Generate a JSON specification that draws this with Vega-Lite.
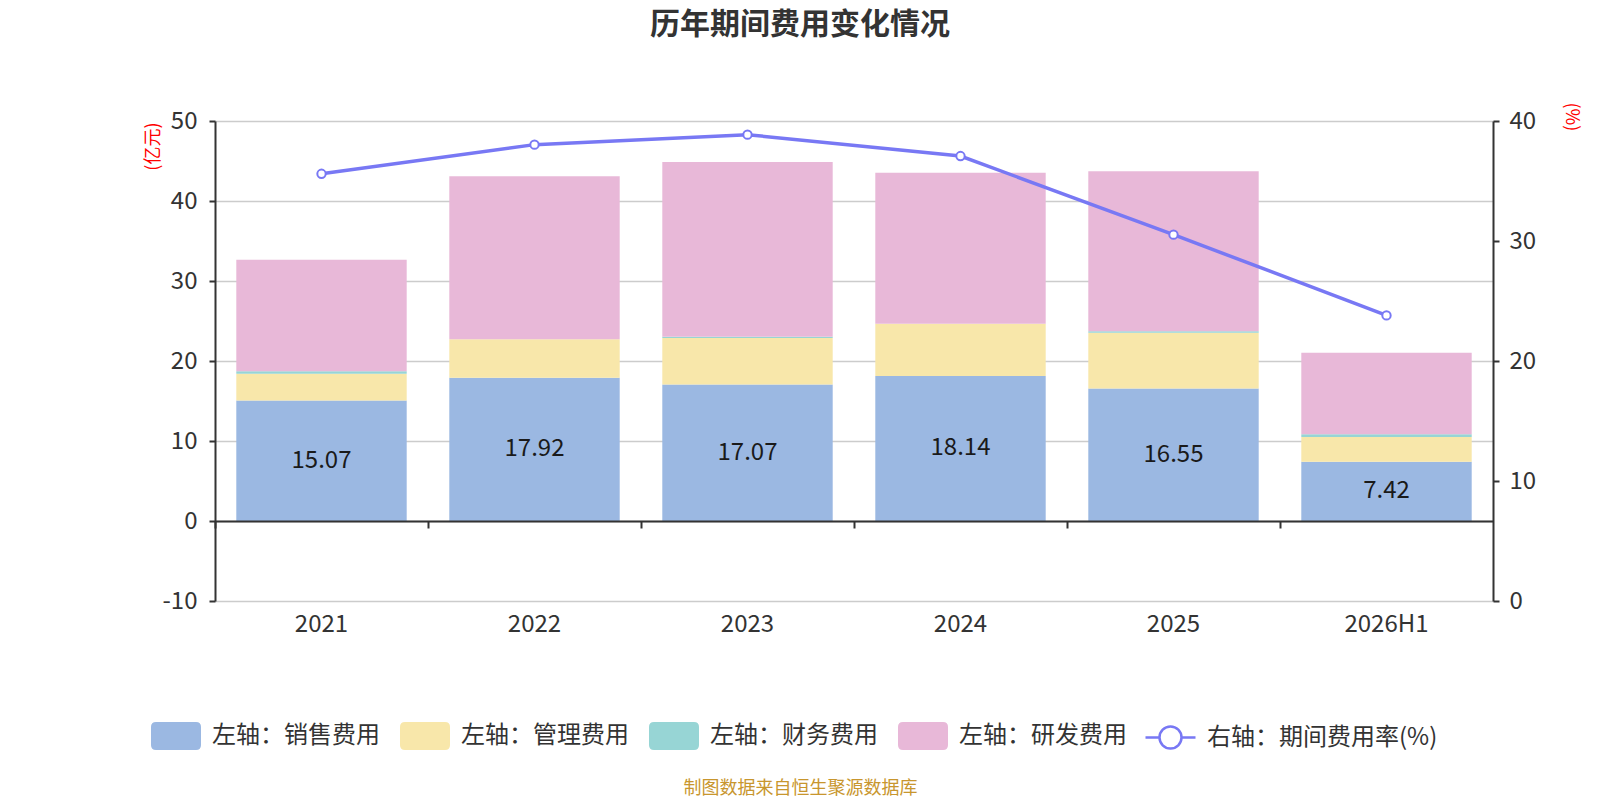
{
  "$schema": "https://vega.github.io/schema/vega-lite/v6.json",
  "width": 1278,
  "height": 480,
  "autosize": "none",
  "padding": {"left": 215, "top": 121, "right": 107, "bottom": 199},
  "background": "white",
  "title": {
    "text": "历年期间费用变化情况",
    "font": "Noto Sans CJK SC",
    "fontSize": 30,
    "fontWeight": "bold",
    "color": "#333333",
    "anchor": "middle",
    "dx": -54,
    "offset": 62
  },
  "datasets": {
    "cost": [
      {"year": "2021", "type": "左轴：销售费用", "k": 1, "value": 15.07},
      {"year": "2021", "type": "左轴：管理费用", "k": 2, "value": 3.33},
      {"year": "2021", "type": "左轴：财务费用", "k": 3, "value": 0.33},
      {"year": "2021", "type": "左轴：研发费用", "k": 4, "value": 13.92},
      {"year": "2022", "type": "左轴：销售费用", "k": 1, "value": 17.92},
      {"year": "2022", "type": "左轴：管理费用", "k": 2, "value": 4.79},
      {"year": "2022", "type": "左轴：财务费用", "k": 3, "value": -0.03},
      {"year": "2022", "type": "左轴：研发费用", "k": 4, "value": 20.37},
      {"year": "2023", "type": "左轴：销售费用", "k": 1, "value": 17.07},
      {"year": "2023", "type": "左轴：管理费用", "k": 2, "value": 5.80},
      {"year": "2023", "type": "左轴：财务费用", "k": 3, "value": 0.17},
      {"year": "2023", "type": "左轴：研发费用", "k": 4, "value": 21.83},
      {"year": "2024", "type": "左轴：销售费用", "k": 1, "value": 18.14},
      {"year": "2024", "type": "左轴：管理费用", "k": 2, "value": 6.53},
      {"year": "2024", "type": "左轴：财务费用", "k": 3, "value": -0.05},
      {"year": "2024", "type": "左轴：研发费用", "k": 4, "value": 18.87},
      {"year": "2025", "type": "左轴：销售费用", "k": 1, "value": 16.55},
      {"year": "2025", "type": "左轴：管理费用", "k": 2, "value": 6.99},
      {"year": "2025", "type": "左轴：财务费用", "k": 3, "value": 0.17},
      {"year": "2025", "type": "左轴：研发费用", "k": 4, "value": 20.00},
      {"year": "2026H1", "type": "左轴：销售费用", "k": 1, "value": 7.42},
      {"year": "2026H1", "type": "左轴：管理费用", "k": 2, "value": 3.08},
      {"year": "2026H1", "type": "左轴：财务费用", "k": 3, "value": 0.33},
      {"year": "2026H1", "type": "左轴：研发费用", "k": 4, "value": 10.21}
    ],
    "rate": [
      {"year": "2021", "rate": 35.6},
      {"year": "2022", "rate": 38.03},
      {"year": "2023", "rate": 38.86},
      {"year": "2024", "rate": 37.08},
      {"year": "2025", "rate": 30.53},
      {"year": "2026H1", "rate": 23.8}
    ]
  },
  "layer": [
    {
      "data": {"name": "cost"},
      "mark": {"type": "bar", "width": {"band": 0.8}},
      "encoding": {
        "x": {
          "field": "year",
          "type": "nominal",
          "sort": null,
          "scale": {"paddingInner": 0, "paddingOuter": 0},
          "axis": {
            "orient": "bottom",
            "domain": false,
            "ticks": false,
            "grid": false,
            "labelAngle": 0,
            "labelPadding": 11,
            "labelFontSize": 24,
            "labelColor": "#333333",
            "title": "制图数据来自恒生聚源数据库",
            "titleColor": "#c8962e",
            "titleFontSize": 18,
            "titleFontWeight": "normal",
            "titleX": 585,
            "titleY": 187,
            "titleAlign": "center",
            "titleBaseline": "middle"
          }
        },
        "y": {
          "field": "value",
          "type": "quantitative",
          "stack": "zero",
          "scale": {"domain": [-10, 50], "nice": false, "zero": false},
          "axis": {
            "orient": "left",
            "values": [-10, 0, 10, 20, 30, 40, 50],
            "labelExpr": "'' + datum.value",
            "domain": true,
            "domainColor": "#333333",
            "domainWidth": 2,
            "ticks": true,
            "tickColor": "#333333",
            "tickWidth": 2,
            "tickSize": 6,
            "labelPadding": 12,
            "labelFontSize": 24,
            "labelColor": "#333333",
            "grid": true,
            "gridColor": "#cccccc",
            "gridWidth": 1.5,
            "title": "(亿元)",
            "titleColor": "#ff0000",
            "titleFontSize": 18,
            "titleFontWeight": "normal",
            "titleAngle": -90,
            "titleX": -62,
            "titleY": 1,
            "titleAlign": "right",
            "titleBaseline": "middle"
          }
        },
        "fill": {
          "field": "type",
          "type": "nominal",
          "scale": {
            "domain": ["左轴：销售费用", "左轴：管理费用", "左轴：财务费用", "左轴：研发费用"],
            "range": ["#9bb8e2", "#f8e7aa", "#97d5d5", "#e8b8d8"]
          },
          "legend": {
            "orient": "none",
            "legendX": -64,
            "legendY": 590,
            "direction": "horizontal",
            "title": null,
            "padding": 0,
            "symbolType": "M-0.8,-0.56 L0.8,-0.56 Q1,-0.56 1,-0.36 L1,0.36 Q1,0.56 0.8,0.56 L-0.8,0.56 Q-1,0.56 -1,0.36 L-1,-0.36 Q-1,-0.56 -0.8,-0.56 Z",
            "symbolSize": 2500,
            "symbolStrokeWidth": 0,
            "symbolOpacity": 1,
            "labelFontSize": 24,
            "labelColor": "#333333",
            "labelOffset": 11,
            "labelLimit": 400,
            "columnPadding": 20
          }
        },
        "order": {"field": "k", "type": "quantitative"}
      }
    },
    {
      "data": {"name": "cost"},
      "transform": [{"filter": "datum.k === 1"}],
      "mark": {"type": "text", "fontSize": 24, "color": "#1a1a1a", "baseline": "middle", "align": "center"},
      "encoding": {
        "x": {"field": "year", "type": "nominal", "sort": null, "axis": null},
        "y": {
          "field": "value",
          "type": "quantitative",
          "scale": {"domain": [-20, 100], "nice": false, "zero": false},
          "axis": null
        },
        "text": {"field": "value", "type": "quantitative", "format": ".2f"}
      }
    },
    {
      "data": {"name": "rate"},
      "mark": {
        "type": "line",
        "strokeWidth": 3.5,
        "point": {"filled": false, "fill": "white", "size": 70, "strokeWidth": 2}
      },
      "encoding": {
        "x": {
          "field": "year",
          "type": "nominal",
          "sort": null,
          "axis": {
            "orient": "bottom",
            "offset": -80,
            "zindex": 1,
            "domain": true,
            "domainColor": "#333333",
            "domainWidth": 2,
            "ticks": true,
            "tickColor": "#333333",
            "tickWidth": 2,
            "tickSize": 7,
            "bandPosition": 0,
            "labels": false,
            "grid": false,
            "title": null
          }
        },
        "y": {
          "field": "rate",
          "type": "quantitative",
          "scale": {"domain": [0, 40], "nice": false, "zero": false},
          "axis": {
            "orient": "right",
            "values": [0, 10, 20, 30, 40],
            "domain": true,
            "domainColor": "#333333",
            "domainWidth": 2,
            "ticks": true,
            "tickColor": "#333333",
            "tickWidth": 2,
            "tickSize": 6,
            "labelPadding": 10,
            "labelFontSize": 24,
            "labelColor": "#333333",
            "grid": false,
            "title": "(%)",
            "titleColor": "#ff0000",
            "titleFontSize": 18,
            "titleFontWeight": "normal",
            "titleAngle": 90,
            "titleX": 77,
            "titleY": -19,
            "titleAlign": "left",
            "titleBaseline": "middle"
          }
        },
        "stroke": {
          "datum": "右轴：期间费用率(%)",
          "type": "nominal",
          "scale": {"range": ["#7878f4"]},
          "legend": {
            "orient": "none",
            "legendX": 929,
            "legendY": 590,
            "title": null,
            "padding": 0,
            "symbolType": "M-1,0 L-0.44,0 M0.44,0 L1,0 M-0.44,0 A0.44,0.44 0 1,1 0.44,0 A0.44,0.44 0 1,1 -0.44,0",
            "symbolSize": 2500,
            "symbolStrokeWidth": 2.5,
            "symbolFillColor": "white",
            "labelFontSize": 24,
            "labelColor": "#333333",
            "labelOffset": 10,
            "labelLimit": 400
          }
        }
      }
    }
  ],
  "resolve": {
    "scale": {"y": "independent", "fill": "independent", "stroke": "independent"},
    "axis": {"x": "independent"}
  },
  "config": {
    "font": "Noto Sans CJK SC",
    "view": {"stroke": null},
    "axis": {"labelFont": "Noto Sans CJK SC", "titleFont": "Noto Sans CJK SC"},
    "legend": {"labelFont": "Noto Sans CJK SC"}
  }
}
